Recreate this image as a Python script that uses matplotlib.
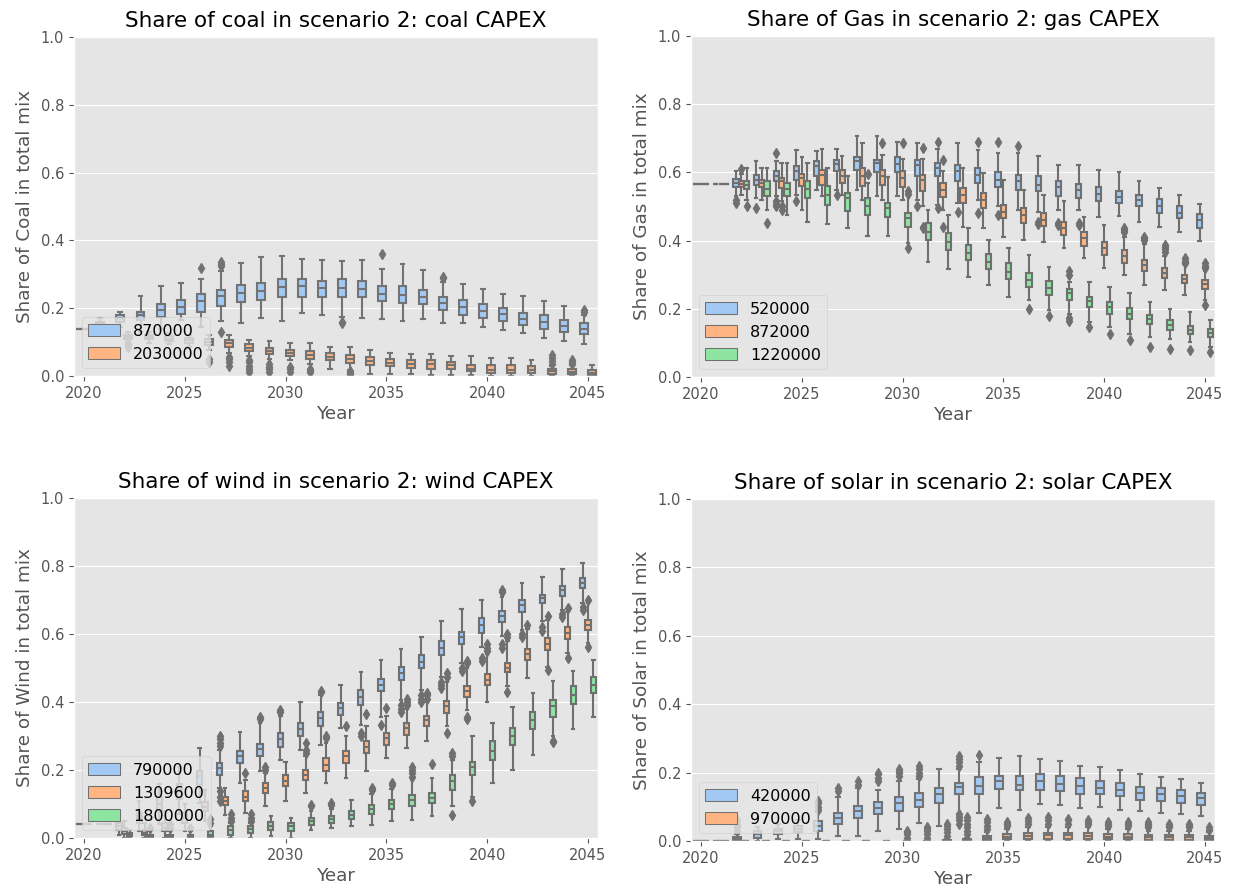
import colorsys
import numpy as np
import matplotlib
matplotlib.use("Agg")
import matplotlib.pyplot as plt
import matplotlib.colors as mcolors
from matplotlib.patches import Patch

YEARS = list(range(2020, 2046))
TICK_YEARS = [2020, 2025, 2030, 2035, 2040, 2045]
PASTEL = ['#a1c9f4', '#ffb482', '#8de5a1']

# ---------------- Coal ----------------
COAL_LABELS = ['870000', '2030000']
COAL_870_MED = [0.14,0.155,0.17,0.18,0.196,0.204,0.222,0.236,0.245,0.25,0.263,0.265,0.261,0.261,0.258,0.243,0.238,0.233,0.216,0.204,0.191,0.182,0.169,0.16,0.148,0.14]
COAL_870_Q1 = [0.14,0.15,0.16,0.165,0.174,0.184,0.19,0.206,0.219,0.224,0.233,0.233,0.233,0.233,0.233,0.222,0.214,0.212,0.194,0.181,0.172,0.162,0.15,0.14,0.13,0.125]
COAL_870_Q3 = [0.14,0.16,0.18,0.19,0.212,0.224,0.243,0.253,0.268,0.275,0.285,0.285,0.28,0.285,0.28,0.265,0.265,0.253,0.233,0.224,0.212,0.201,0.186,0.179,0.165,0.155]
COAL_870_LO = [0.14,0.14,0.145,0.13,0.14,0.165,0.145,0.163,0.155,0.172,0.163,0.186,0.181,0.175,0.172,0.167,0.163,0.167,0.155,0.155,0.145,0.135,0.127,0.112,0.102,0.094]
COAL_870_HI = [0.14,0.17,0.19,0.237,0.266,0.275,0.285,0.31,0.332,0.35,0.354,0.346,0.342,0.34,0.342,0.317,0.33,0.312,0.278,0.27,0.256,0.243,0.235,0.221,0.207,0.18]
COAL_870_OUT = [[],[],[],[],[],[],[0.32],[0.325,0.33,0.337,0.13],[],[],[],[],[],[0.155,0.16],[],[0.36],[],[],[0.288,0.293],[],[],[],[],[],[],[0.19,0.196]]

COAL_2030_MED = [0.14,0.13,0.115,0.115,0.11,0.105,0.1,0.096,0.084,0.074,0.068,0.061,0.056,0.051,0.044,0.039,0.034,0.035,0.032,0.022,0.017,0.019,0.017,0.015,0.012,0.01]
COAL_2030_Q1 = [0.14,0.125,0.108,0.108,0.103,0.098,0.091,0.086,0.074,0.065,0.058,0.051,0.046,0.039,0.032,0.029,0.025,0.022,0.022,0.015,0.01,0.01,0.009,0.007,0.005,0.003]
COAL_2030_Q3 = [0.14,0.135,0.122,0.12,0.117,0.112,0.11,0.105,0.093,0.084,0.078,0.073,0.069,0.063,0.056,0.051,0.048,0.046,0.041,0.033,0.032,0.032,0.029,0.022,0.022,0.017]
COAL_2030_LO = [0.14,0.12,0.1,0.098,0.093,0.087,0.076,0.069,0.059,0.051,0.046,0.036,0.022,0.017,0.007,0.005,0.005,0.003,0.003,0.002,0.0,0.0,0.0,0.0,0.0,0.0]
COAL_2030_HI = [0.14,0.14,0.13,0.13,0.127,0.122,0.122,0.12,0.107,0.102,0.098,0.096,0.086,0.086,0.076,0.068,0.064,0.064,0.058,0.058,0.053,0.053,0.048,0.03,0.032,0.033]
COAL_2030_OUT = [[],[],[0.085,0.09,0.095],[],[],[],[0.04,0.05],[0.03,0.04,0.05,0.056],[0.012,0.02,0.03,0.04,0.046],[0.012,0.02,0.028,0.036],[0.012,0.02,0.027],[0.012,0.018,0.022],[],[0.005,0.01,0.014],[],[],[],[],[],[],[],[],[],[0.036,0.045,0.052,0.061],[0.036,0.041,0.046],[]]

# ---------------- Gas ----------------
GAS_LABELS = ['520000', '872000', '1220000']
GAS_520_MED = [0.567,0.567,0.569,0.578,0.588,0.603,0.618,0.625,0.632,0.627,0.625,0.622,0.613,0.603,0.593,0.578,0.574,0.564,0.557,0.547,0.537,0.527,0.52,0.502,0.482,0.459]
GAS_520_Q1 = [0.567,0.567,0.557,0.564,0.574,0.578,0.588,0.603,0.608,0.6,0.6,0.588,0.588,0.574,0.569,0.557,0.549,0.544,0.531,0.525,0.515,0.51,0.5,0.482,0.466,0.436]
GAS_520_Q3 = [0.567,0.567,0.58,0.593,0.603,0.618,0.632,0.637,0.645,0.637,0.645,0.637,0.627,0.623,0.613,0.6,0.593,0.588,0.576,0.567,0.557,0.544,0.534,0.522,0.5,0.478]
GAS_520_LO = [0.567,0.567,0.53,0.525,0.53,0.534,0.549,0.549,0.549,0.53,0.53,0.52,0.505,0.51,0.52,0.5,0.49,0.485,0.49,0.49,0.469,0.473,0.454,0.441,0.426,0.4]
GAS_520_HI = [0.567,0.567,0.605,0.632,0.632,0.665,0.662,0.67,0.706,0.706,0.69,0.686,0.67,0.686,0.665,0.657,0.657,0.649,0.623,0.623,0.606,0.6,0.576,0.554,0.534,0.508]
GAS_520_OUT = [[],[],[0.51,0.52],[0.495],[0.657,0.5,0.508,0.515],[0.515],[],[0.534],[],[],[],[0.5],[0.688,0.495],[0.485],[0.69,0.48],[0.69,0.475],[0.676],[0.456,0.45],[0.451,0.445],[0.451,0.445],[],[],[],[],[],[]]

GAS_872_MED = [0.567,0.567,0.567,0.569,0.576,0.583,0.593,0.59,0.588,0.588,0.583,0.578,0.549,0.534,0.52,0.485,0.475,0.461,0.436,0.407,0.377,0.355,0.328,0.306,0.287,0.272]
GAS_872_Q1 = [0.567,0.567,0.557,0.557,0.554,0.56,0.564,0.569,0.559,0.564,0.557,0.544,0.529,0.51,0.495,0.466,0.451,0.443,0.417,0.384,0.358,0.335,0.312,0.289,0.275,0.257]
GAS_872_Q3 = [0.567,0.567,0.575,0.578,0.583,0.596,0.606,0.608,0.613,0.608,0.603,0.593,0.569,0.554,0.539,0.505,0.495,0.48,0.456,0.424,0.397,0.373,0.343,0.319,0.299,0.284]
GAS_872_LO = [0.567,0.567,0.535,0.52,0.515,0.49,0.53,0.534,0.52,0.52,0.52,0.5,0.49,0.441,0.436,0.412,0.402,0.397,0.377,0.348,0.319,0.299,0.27,0.255,0.24,0.225]
GAS_872_HI = [0.567,0.567,0.595,0.613,0.627,0.645,0.669,0.647,0.686,0.65,0.64,0.64,0.605,0.613,0.598,0.578,0.549,0.534,0.515,0.47,0.446,0.412,0.39,0.355,0.33,0.31]
GAS_872_OUT = [[],[],[0.61],[],[0.49,0.5],[],[],[],[],[0.686],[0.686],[0.672,0.441,0.436],[0.637,0.441],[],[],[],[],[],[],[],[],[0.425,0.43,0.436],[0.402,0.407,0.412],[0.368,0.375,0.382,0.387],[0.335,0.34,0.348],[0.319,0.326,0.333,0.21]]

GAS_1220_MED = [0.567,0.567,0.564,0.551,0.551,0.551,0.534,0.525,0.5,0.495,0.466,0.426,0.397,0.363,0.338,0.309,0.284,0.26,0.245,0.223,0.206,0.186,0.17,0.152,0.139,0.129]
GAS_1220_Q1 = [0.567,0.567,0.55,0.531,0.53,0.525,0.505,0.488,0.475,0.47,0.441,0.402,0.373,0.343,0.316,0.286,0.265,0.24,0.225,0.206,0.186,0.169,0.155,0.137,0.127,0.116]
GAS_1220_Q3 = [0.567,0.567,0.575,0.574,0.569,0.576,0.56,0.541,0.525,0.51,0.48,0.451,0.422,0.387,0.361,0.333,0.306,0.281,0.258,0.235,0.221,0.201,0.181,0.167,0.149,0.142]
GAS_1220_LO = [0.567,0.567,0.52,0.49,0.475,0.456,0.449,0.436,0.414,0.414,0.392,0.338,0.316,0.294,0.27,0.235,0.225,0.196,0.186,0.162,0.147,0.127,0.118,0.11,0.103,0.088]
GAS_1220_HI = [0.567,0.567,0.613,0.613,0.627,0.627,0.613,0.59,0.569,0.586,0.53,0.49,0.475,0.436,0.402,0.377,0.358,0.324,0.28,0.279,0.263,0.247,0.22,0.198,0.191,0.167]
GAS_1220_OUT = [[],[],[0.5],[0.453],[],[],[],[],[0.596],[],[0.537,0.544,0.377],[],[],[],[],[],[0.198],[0.178],[0.3,0.31,0.172,0.165],[0.147],[0.127],[0.108],[0.088],[0.083],[0.078],[0.074]]

# ---------------- Wind ----------------
WIND_LABELS = ['790000', '1309600', '1800000']
WIND_790_MED = [0.04,0.04,0.035,0.06,0.1,0.14,0.181,0.206,0.24,0.262,0.291,0.32,0.353,0.382,0.416,0.45,0.485,0.519,0.558,0.59,0.627,0.653,0.686,0.705,0.728,0.749]
WIND_790_Q1 = [0.04,0.04,0.025,0.045,0.08,0.115,0.157,0.186,0.22,0.24,0.269,0.299,0.33,0.362,0.392,0.431,0.465,0.5,0.539,0.571,0.602,0.635,0.666,0.69,0.712,0.735]
WIND_790_Q3 = [0.04,0.04,0.045,0.075,0.12,0.16,0.196,0.222,0.255,0.276,0.309,0.338,0.372,0.397,0.436,0.467,0.502,0.537,0.578,0.607,0.646,0.669,0.7,0.715,0.74,0.764]
WIND_790_LO = [0.04,0.04,0.01,0.02,0.04,0.07,0.103,0.147,0.162,0.196,0.23,0.26,0.274,0.323,0.333,0.357,0.406,0.436,0.475,0.514,0.563,0.593,0.612,0.637,0.671,0.69]
WIND_790_HI = [0.04,0.04,0.07,0.11,0.16,0.21,0.266,0.26,0.311,0.338,0.36,0.4,0.42,0.45,0.487,0.524,0.556,0.59,0.639,0.673,0.7,0.71,0.749,0.767,0.79,0.81]
WIND_790_OUT = [[],[],[],[],[],[],[],[0.27,0.28,0.29,0.3,0.108,0.12,0.137],[],[0.35,0.357],[0.37,0.377],[],[0.428,0.433],[],[0.3,0.31],[0.333],[0.37,0.38,0.39],[0.4,0.41,0.42],[0.44,0.45,0.46],[0.49,0.5],[0.52,0.53],[0.725,0.73,0.56,0.57],[0.59,0.6],[0.61,0.62],[0.65,0.66],[0.67,0.68]]

WIND_1309_MED = [0.04,0.04,0.02,0.015,0.03,0.06,0.09,0.11,0.122,0.147,0.169,0.186,0.215,0.24,0.269,0.294,0.323,0.346,0.387,0.433,0.465,0.501,0.542,0.571,0.602,0.627]
WIND_1309_Q1 = [0.04,0.04,0.012,0.008,0.02,0.045,0.08,0.098,0.108,0.132,0.152,0.171,0.196,0.222,0.25,0.274,0.304,0.328,0.367,0.416,0.45,0.487,0.524,0.553,0.585,0.612]
WIND_1309_Q3 = [0.04,0.04,0.03,0.025,0.045,0.075,0.105,0.122,0.137,0.162,0.186,0.2,0.235,0.255,0.284,0.31,0.338,0.359,0.402,0.446,0.482,0.514,0.555,0.588,0.62,0.642]
WIND_1309_LO = [0.04,0.04,0.0,0.0,0.0,0.02,0.05,0.069,0.075,0.093,0.108,0.132,0.162,0.176,0.196,0.235,0.264,0.284,0.328,0.377,0.401,0.446,0.47,0.504,0.544,0.573]
WIND_1309_HI = [0.04,0.04,0.05,0.045,0.08,0.1,0.14,0.147,0.17,0.19,0.225,0.24,0.28,0.3,0.328,0.36,0.38,0.4,0.46,0.5,0.54,0.58,0.615,0.64,0.665,0.69]
WIND_1309_OUT = [[],[],[],[],[],[],[],[],[0.19],[0.2,0.21],[],[0.25,0.26,0.28],[0.295,0.3],[0.33],[0.365],[0.382],[0.39,0.4,0.41],[0.41,0.42,0.426],[0.475,0.485,0.31],[0.514,0.52,0.357,0.35],[0.55,0.56,0.57],[0.59,0.6,0.43],[0.627],[0.653,0.495],[0.676,0.529],[0.7,0.561]]

WIND_1800_MED = [0.04,0.04,0.01,0.005,0.005,0.005,0.01,0.025,0.027,0.034,0.034,0.049,0.056,0.069,0.085,0.1,0.113,0.118,0.167,0.209,0.255,0.299,0.348,0.387,0.421,0.45]
WIND_1800_Q1 = [0.04,0.04,0.005,0.0,0.0,0.0,0.003,0.01,0.015,0.024,0.02,0.039,0.044,0.056,0.071,0.085,0.095,0.103,0.142,0.186,0.23,0.274,0.32,0.357,0.394,0.426]
WIND_1800_Q3 = [0.04,0.04,0.015,0.01,0.01,0.01,0.02,0.035,0.036,0.046,0.044,0.059,0.066,0.08,0.098,0.113,0.127,0.132,0.186,0.225,0.284,0.323,0.372,0.406,0.446,0.473]
WIND_1800_LO = [0.04,0.04,0.0,0.0,0.0,0.0,0.0,0.0,0.0,0.005,0.0,0.024,0.029,0.034,0.039,0.049,0.054,0.064,0.093,0.122,0.162,0.2,0.245,0.299,0.32,0.357]
WIND_1800_HI = [0.04,0.04,0.025,0.02,0.02,0.02,0.035,0.044,0.044,0.064,0.059,0.078,0.085,0.113,0.13,0.145,0.17,0.176,0.23,0.3,0.338,0.385,0.426,0.463,0.492,0.524]
WIND_1800_OUT = [[],[],[],[0.03],[0.03,0.04],[0.03],[0.045,0.055],[0.05,0.06,0.07],[0.05,0.06,0.07],[],[],[0.093,0.098],[0.098,0.103],[],[0.14,0.147],[0.157,0.162],[0.18,0.19,0.2,0.21],[0.218],[0.24,0.25,0.069],[0.11],[],[],[],[0.281,0.285],[],[]]

# ---------------- Solar ----------------
SOLAR_LABELS = ['420000', '970000']
SOLAR_420_MED = [0.0,0.0,0.005,0.02,0.03,0.035,0.044,0.068,0.087,0.097,0.11,0.121,0.136,0.158,0.162,0.175,0.165,0.175,0.168,0.162,0.155,0.149,0.141,0.136,0.131,0.126]
SOLAR_420_Q1 = [0.0,0.0,0.0,0.01,0.02,0.025,0.03,0.049,0.068,0.078,0.087,0.1,0.11,0.136,0.138,0.152,0.149,0.15,0.146,0.138,0.136,0.131,0.121,0.117,0.112,0.104]
SOLAR_420_Q3 = [0.0,0.0,0.012,0.03,0.035,0.045,0.058,0.083,0.102,0.114,0.129,0.141,0.155,0.17,0.187,0.191,0.191,0.197,0.191,0.184,0.175,0.17,0.158,0.155,0.149,0.141]
SOLAR_420_LO = [0.0,0.0,0.0,0.0,0.005,0.005,0.005,0.015,0.015,0.029,0.034,0.053,0.044,0.078,0.083,0.097,0.092,0.107,0.104,0.097,0.099,0.092,0.087,0.083,0.078,0.073]
SOLAR_420_HI = [0.0,0.0,0.02,0.04,0.05,0.06,0.085,0.13,0.155,0.15,0.175,0.18,0.211,0.21,0.23,0.243,0.248,0.24,0.235,0.22,0.216,0.207,0.197,0.187,0.18,0.17]
SOLAR_420_OUT = [[],[],[0.03,0.04,0.05,0.06],[],[],[],[0.09,0.1,0.11,0.117],[0.145,0.155],[0.165,0.175],[0.175,0.185,0.195,0.2],[0.19,0.2,0.205,0.21],[0.19,0.2,0.21,0.218],[],[0.22,0.23,0.24,0.25,0.05,0.06,0.07,0.08],[0.252],[],[],[],[],[],[],[],[],[],[],[]]

SOLAR_970_MED = [0.0,0.0,0.0,0.0,0.0,0.0,0.0,0.0,0.0,0.0,0.0,0.0,0.0,0.0,0.008,0.012,0.015,0.017,0.017,0.016,0.013,0.013,0.012,0.012,0.012,0.01]
SOLAR_970_Q1 = [0.0,0.0,0.0,0.0,0.0,0.0,0.0,0.0,0.0,0.0,0.0,0.0,0.0,0.0,0.003,0.006,0.006,0.007,0.007,0.007,0.005,0.005,0.004,0.004,0.004,0.003]
SOLAR_970_Q3 = [0.0,0.0,0.0,0.0,0.0,0.0,0.0,0.0,0.0,0.0,0.0,0.0,0.003,0.005,0.015,0.02,0.022,0.023,0.022,0.022,0.02,0.02,0.018,0.018,0.018,0.015]
SOLAR_970_LO = [0.0,0.0,0.0,0.0,0.0,0.0,0.0,0.0,0.0,0.0,0.0,0.0,0.0,0.0,0.0,0.0,0.0,0.0,0.0,0.0,0.0,0.0,0.0,0.0,0.0,0.0]
SOLAR_970_HI = [0.0,0.0,0.0,0.0,0.0,0.0,0.0,0.0,0.0,0.0,0.0,0.0,0.005,0.01,0.025,0.035,0.04,0.04,0.04,0.04,0.035,0.035,0.03,0.03,0.03,0.025]
SOLAR_970_OUT = [[],[],[],[],[],[],[],[],[],[],[0.01,0.02,0.025,0.03],[0.01,0.02,0.03,0.035,0.04],[0.015,0.025,0.035,0.045,0.05],[0.02,0.03,0.04,0.05,0.06,0.07],[0.035,0.045,0.055,0.065],[0.045,0.05,0.055],[0.05,0.058,0.066],[0.05,0.06,0.07],[0.05,0.06,0.065],[0.05,0.055,0.06],[0.045,0.05,0.055],[0.045,0.05,0.055],[0.04,0.045,0.05,0.055],[0.04,0.045,0.05],[0.04,0.045,0.05],[0.033,0.04]]


def series_stats(med, q1, q3, lo, hi, out):
    return [dict(med=med[i], q1=q1[i], q3=q3[i], whislo=lo[i], whishi=hi[i], fliers=out[i])
            for i in range(len(YEARS))]


def draw_panel(ax, series, labels, title, ylabel):
    n = len(series)
    pal = PASTEL[:n]
    lum = min(colorsys.rgb_to_hls(*mcolors.to_rgb(c))[1] for c in pal) * 0.6
    gray = (lum, lum, lum)
    group_w = 0.8 / n
    xs = np.arange(len(YEARS))
    lw = 1.5
    for k, (s, c) in enumerate(zip(series, pal)):
        off = -0.4 + group_w * (k + 0.5)
        ax.bxp(series_stats(*s), positions=xs + off, widths=group_w * 0.98,
               patch_artist=True, manage_ticks=False,
               boxprops=dict(facecolor=c, edgecolor=gray, linewidth=lw),
               medianprops=dict(color=gray, linewidth=lw),
               whiskerprops=dict(color=gray, linewidth=lw),
               capprops=dict(color=gray, linewidth=lw),
               flierprops=dict(marker='d', markerfacecolor=gray, markeredgecolor=gray,
                               markersize=5, linestyle='none'))
    ax.set_xlim(-0.5, len(YEARS) - 0.5)
    ax.set_ylim(0, 1.0)
    ax.set_xticks([YEARS.index(y) for y in TICK_YEARS])
    ax.set_xticklabels([str(y) for y in TICK_YEARS])
    ax.set_yticks([0, 0.2, 0.4, 0.6, 0.8, 1.0])
    ax.set_yticklabels(['0.0', '0.2', '0.4', '0.6', '0.8', '1.0'])
    ax.tick_params(labelsize=10.5)
    ax.xaxis.grid(False)
    ax.set_title(title, color='black', fontsize=15.5, pad=7)
    ax.set_xlabel('Year', fontsize=13.2, labelpad=3)
    ax.set_ylabel(ylabel, fontsize=13.2, labelpad=5)
    handles = [Patch(facecolor=c, edgecolor=gray, linewidth=lw / 2, label=l) for c, l in zip(pal, labels)]
    ax.legend(handles=handles, loc='lower left', fontsize=11.5)


plt.style.use('ggplot')
fig = plt.figure(figsize=(12.38, 8.92), dpi=100)
W, H = 1238.0, 892.0

def rect(l, r, t, b):
    return [l / W, 1 - b / H, (r - l) / W, (b - t) / H]

ax1 = fig.add_axes(rect(74, 598, 37, 376))
ax2 = fig.add_axes(rect(691, 1215, 36, 377))
ax3 = fig.add_axes(rect(74, 598, 498, 838))
ax4 = fig.add_axes(rect(691, 1215, 499, 841))

draw_panel(ax1, [
    (COAL_870_MED, COAL_870_Q1, COAL_870_Q3, COAL_870_LO, COAL_870_HI, COAL_870_OUT),
    (COAL_2030_MED, COAL_2030_Q1, COAL_2030_Q3, COAL_2030_LO, COAL_2030_HI, COAL_2030_OUT),
], COAL_LABELS, 'Share of coal in scenario 2: coal CAPEX', 'Share of Coal in total mix')

draw_panel(ax2, [
    (GAS_520_MED, GAS_520_Q1, GAS_520_Q3, GAS_520_LO, GAS_520_HI, GAS_520_OUT),
    (GAS_872_MED, GAS_872_Q1, GAS_872_Q3, GAS_872_LO, GAS_872_HI, GAS_872_OUT),
    (GAS_1220_MED, GAS_1220_Q1, GAS_1220_Q3, GAS_1220_LO, GAS_1220_HI, GAS_1220_OUT),
], GAS_LABELS, 'Share of Gas in scenario 2: gas CAPEX', 'Share of Gas in total mix')

draw_panel(ax3, [
    (WIND_790_MED, WIND_790_Q1, WIND_790_Q3, WIND_790_LO, WIND_790_HI, WIND_790_OUT),
    (WIND_1309_MED, WIND_1309_Q1, WIND_1309_Q3, WIND_1309_LO, WIND_1309_HI, WIND_1309_OUT),
    (WIND_1800_MED, WIND_1800_Q1, WIND_1800_Q3, WIND_1800_LO, WIND_1800_HI, WIND_1800_OUT),
], WIND_LABELS, 'Share of wind in scenario 2: wind CAPEX', 'Share of Wind in total mix')

draw_panel(ax4, [
    (SOLAR_420_MED, SOLAR_420_Q1, SOLAR_420_Q3, SOLAR_420_LO, SOLAR_420_HI, SOLAR_420_OUT),
    (SOLAR_970_MED, SOLAR_970_Q1, SOLAR_970_Q3, SOLAR_970_LO, SOLAR_970_HI, SOLAR_970_OUT),
], SOLAR_LABELS, 'Share of solar in scenario 2: solar CAPEX', 'Share of Solar in total mix')

fig.savefig('out.png', dpi=100)
